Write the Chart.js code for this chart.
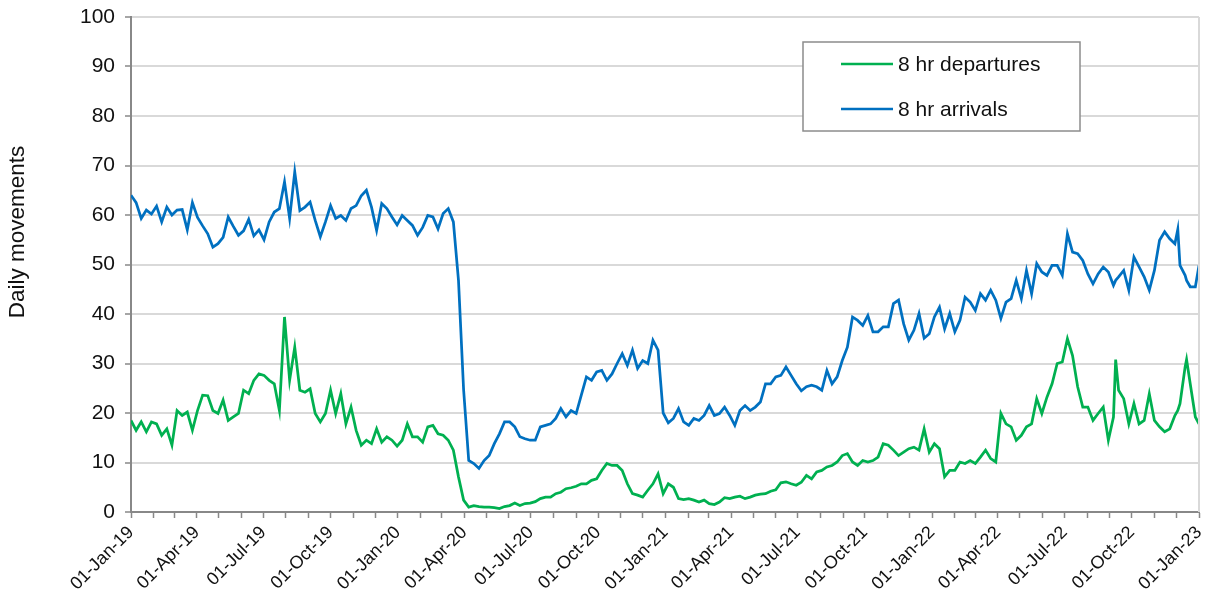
<!DOCTYPE html>
<html>
<head>
<meta charset="utf-8">
<script src="https://cdn.jsdelivr.net/npm/chart.js@4.4.0/dist/chart.umd.min.js"></script>
<style>
  html, body { margin: 0; padding: 0; background: #fff; }
  #wrap { width: 1210px; height: 599px; }
</style>
</head>
<body>
<div id="wrap"><canvas id="movementsChart" width="1210" height="599"></canvas></div>
<script>
// x = days since 01-Jan-2019, sampled about weekly
var days = [0, 7, 14, 21, 28, 35, 42, 49, 56, 63, 70, 77, 84, 91, 98, 105, 112, 119, 126, 133, 140, 147, 154, 161, 168, 175,
  182, 189, 196, 203, 210, 217, 224, 231, 238, 245, 252, 259, 266, 273, 280, 287, 294, 301, 308, 315, 322, 329, 336, 343, 350, 357,
  364, 371, 378, 385, 392, 399, 406, 413, 420, 427, 434, 441, 448, 455, 462, 469, 476, 483, 490, 497, 504, 511, 518, 525, 532, 539,
  546, 553, 560, 567, 574, 581, 588, 595, 602, 609, 616, 623, 630, 637, 644, 651, 658, 665, 672, 679, 686, 693, 700, 707, 714, 721,
  728, 735, 742, 749, 756, 763, 770, 777, 784, 791, 798, 805, 812, 819, 826, 833, 840, 847, 854, 861, 868, 875, 882, 889, 896, 903,
  910, 917, 924, 931, 938, 945, 952, 959, 966, 973, 980, 987, 994, 1001, 1008, 1015, 1022, 1029, 1036, 1043, 1050, 1057, 1064, 1071,
  1078, 1085, 1092, 1099, 1106, 1113, 1120, 1127, 1134, 1141, 1148, 1155, 1162, 1169, 1176, 1183, 1190, 1197, 1204, 1211, 1218, 1225,
  1232, 1239, 1246, 1253, 1260, 1267, 1274, 1281, 1288, 1295, 1302, 1309, 1316, 1323, 1330, 1337, 1344, 1347, 1351, 1358, 1365, 1372,
  1379, 1386, 1393, 1400, 1407, 1414, 1421, 1428, 1432, 1435, 1442, 1444, 1449, 1456, 1461];

var departures = [18.5, 16.5, 18.2, 16.2, 18.2, 17.8, 15.5, 16.8, 13.5, 20.5, 19.5, 20.2, 16.5, 20.5, 23.6, 23.5, 20.5, 19.9, 22.6, 18.5, 19.2, 19.9, 24.6, 23.9, 26.6, 27.9,
  27.6, 26.6, 25.9, 20.5, 39.4, 26.6, 33.3, 24.6, 24.2, 24.9, 19.9, 18.2, 19.9, 24.6, 19.9, 23.9, 17.8, 21.2, 16.5, 13.5, 14.5, 13.8, 16.8, 14.1, 15.2, 14.5,
  13.3, 14.5, 17.8, 15.2, 15.2, 14.1, 17.2, 17.5, 15.8, 15.5, 14.5, 12.5, 7.1, 2.4, 1.0, 1.3, 1.1, 1.0, 1.0, 0.9, 0.7, 1.1, 1.3, 1.8, 1.3, 1.7,
  1.8, 2.1, 2.7, 3.0, 3.0, 3.7, 4.0, 4.7, 4.9, 5.2, 5.7, 5.7, 6.4, 6.7, 8.4, 9.8, 9.4, 9.4, 8.4, 5.7, 3.7, 3.4, 3.0, 4.4, 5.7, 7.7,
  3.7, 5.7, 5.0, 2.7, 2.5, 2.7, 2.4, 2.0, 2.4, 1.7, 1.5, 2.0, 2.9, 2.7, 3.0, 3.2, 2.7, 3.0, 3.4, 3.6, 3.7, 4.2, 4.5, 5.9, 6.1, 5.7,
  5.4, 6.0, 7.4, 6.7, 8.1, 8.4, 9.1, 9.4, 10.1, 11.4, 11.8, 10.1, 9.4, 10.4, 10.1, 10.4, 11.1, 13.8, 13.5, 12.5, 11.4, 12.1, 12.8, 13.1,
  12.5, 16.8, 12.1, 13.8, 12.8, 7.1, 8.4, 8.4, 10.1, 9.8, 10.4, 9.8, 11.1, 12.5, 10.8, 10.1, 19.9, 17.8, 17.2, 14.5, 15.5, 17.2,
  17.8, 22.9, 19.9, 23.2, 25.9, 30.0, 30.3, 35.0, 31.6, 25.3, 21.2, 21.2, 18.5, 19.9, 21.2, 14.5, 19.2, 30.8, 24.6, 22.9, 17.8, 21.9,
  17.8, 18.5, 23.9, 18.5, 17.2, 16.2, 16.8, 19.5, 20.5, 21.9, 29.3, 30.8, 25.9, 19.2, 17.8];

var arrivals = [64.0, 62.5, 59.3, 61.0, 60.2, 61.8, 58.6, 61.6, 60.0, 61.0, 61.1, 57.0, 62.5, 59.5, 57.8, 56.2, 53.5, 54.2, 55.5, 59.6, 57.7, 55.9, 56.8, 59.1, 55.8, 57.0,
  55.0, 58.6, 60.6, 61.3, 66.7, 59.3, 68.7, 60.9, 61.6, 62.6, 58.9, 55.6, 58.6, 61.9, 59.3, 59.9, 58.9, 61.3, 61.9, 63.9, 65.0, 61.6, 56.9, 62.3, 61.3, 59.6,
  58.0, 59.9, 58.9, 57.9, 55.9, 57.5, 59.9, 59.6, 57.2, 60.3, 61.3, 58.6, 46.8, 24.7, 10.4, 9.8, 8.8, 10.4, 11.4, 13.8, 15.8, 18.2, 18.2, 17.2, 15.2, 14.8,
  14.5, 14.5, 17.2, 17.5, 17.8, 18.9, 20.9, 19.2, 20.5, 19.9, 23.6, 27.3, 26.6, 28.3, 28.6, 26.6, 27.9, 30.0, 32.0, 29.6, 32.7, 29.0, 30.6, 30.0, 34.7, 32.7,
  20.0, 18.0, 18.9, 20.9, 18.2, 17.5, 18.9, 18.5, 19.5, 21.5, 19.5, 19.9, 21.2, 19.5, 17.5, 20.5, 21.5, 20.5, 21.2, 22.2, 25.9, 25.9, 27.3, 27.6, 29.3, 27.6,
  25.9, 24.5, 25.3, 25.6, 25.3, 24.6, 28.6, 25.9, 27.3, 30.6, 33.3, 39.4, 38.7, 37.7, 39.7, 36.4, 36.4, 37.4, 37.4, 42.1, 42.8, 38.0, 34.7, 36.7,
  40.1, 35.1, 36.0, 39.4, 41.4, 37.0, 40.1, 36.4, 38.7, 43.4, 42.4, 40.7, 44.1, 42.8, 44.8, 42.8, 39.1, 42.4, 43.1, 46.8, 43.1, 48.8,
  44.1, 50.2, 48.5, 47.8, 49.8, 49.8, 47.8, 56.2, 52.5, 52.2, 50.8, 48.1, 46.1, 48.1, 49.5, 48.5, 45.8, 46.8, 47.5, 48.8, 44.8, 51.5,
  49.5, 47.5, 44.8, 48.8, 54.9, 56.6, 55.2, 54.2, 57.1, 49.8, 47.8, 46.8, 45.5, 45.5, 49.8];

var tickDays = [0, 90, 181, 273, 365, 456, 547, 639, 731, 821, 912, 1004, 1096, 1186, 1277, 1369, 1461];
var tickLabels = ['01-Jan-19', '01-Apr-19', '01-Jul-19', '01-Oct-19', '01-Jan-20', '01-Apr-20', '01-Jul-20', '01-Oct-20',
  '01-Jan-21', '01-Apr-21', '01-Jul-21', '01-Oct-21', '01-Jan-22', '01-Apr-22', '01-Jul-22', '01-Oct-22', '01-Jan-23'];

// first day of every month, for the small tick marks
var monthDays = [];
for (var y = 2019; y <= 2022; y++) {
  for (var m = 0; m < 12; m++) {
    monthDays.push((Date.UTC(y, m, 1) - Date.UTC(2019, 0, 1)) / 86400000);
  }
}
monthDays.push(1461);

var yTitle = 'Daily movements';
var fontFamily = '"Liberation Sans", Arial, sans-serif';

function toPoints(vals) {
  return vals.map(function (v, i) { return { x: days[i], y: v }; });
}

var boxLegend = {
  id: 'boxLegend',
  afterDraw: function (chart) {
    var c = chart.ctx;
    var area = chart.chartArea;
    c.save();
    // right border of the plot
    c.strokeStyle = '#d9d9d9';
    c.lineWidth = 2;
    c.beginPath();
    c.moveTo(area.right, area.top);
    c.lineTo(area.right, area.bottom);
    c.stroke();
    // y axis title, sits a bit above the middle like the original
    c.save();
    c.translate(18, 232);
    c.rotate(-Math.PI / 2);
    c.font = '22.5px ' + fontFamily;
    c.fillStyle = '#111';
    c.textAlign = 'center';
    c.textBaseline = 'middle';
    c.fillText(yTitle, 0, 0);
    c.restore();
    // legend box
    c.fillStyle = '#fff';
    c.fillRect(803, 42, 277, 89);
    c.strokeStyle = '#8c8c8c';
    c.lineWidth = 1.5;
    c.strokeRect(803, 42, 277, 89);
    c.font = '21px ' + fontFamily;
    c.textBaseline = 'middle';
    c.textAlign = 'left';
    c.fillStyle = '#111';
    var rows = [64, 109];
    chart.data.datasets.forEach(function (ds, i) {
      c.strokeStyle = ds.borderColor;
      c.lineWidth = 2.5;
      c.beginPath();
      c.moveTo(841, rows[i]);
      c.lineTo(893, rows[i]);
      c.stroke();
      c.fillText(ds.label, 898, rows[i] + 1);
    });
    c.restore();
  }
};

var ctx = document.getElementById('movementsChart').getContext('2d');
var movementsChart = new Chart(ctx, {
  type: 'line',
  data: {
    datasets: [{
      label: '8 hr departures',
      data: toPoints(departures),
      borderColor: '#00b050',
      borderWidth: 2.75,
      pointRadius: 0,
      tension: 0
    }, {
      label: '8 hr arrivals',
      data: toPoints(arrivals),
      borderColor: '#0070c0',
      borderWidth: 2.75,
      pointRadius: 0,
      tension: 0
    }]
  },
  options: {
    responsive: false,
    animation: false,
    devicePixelRatio: 1,
    layout: { padding: { top: 17, right: 11, left: 0, bottom: 0 } },
    plugins: {
      legend: { display: false },
      tooltip: { enabled: false }
    },
    scales: {
      x: {
        type: 'linear',
        min: 0,
        max: 1461,
        afterBuildTicks: function (scale) {
          scale.ticks = monthDays.map(function (d) { return { value: d }; });
        },
        afterFit: function (scale) {
          scale.height = 87;
          scale.paddingLeft = 0;
          scale.paddingRight = 0;
        },
        ticks: {
          autoSkip: false,
          minRotation: 45,
          maxRotation: 45,
          padding: 4,
          color: '#111',
          font: { family: fontFamily, size: 18 },
          callback: function (value) {
            var k = tickDays.indexOf(value);
            return k >= 0 ? tickLabels[k] : '';
          }
        },
        grid: { drawOnChartArea: false, drawTicks: true, tickLength: 6, tickColor: '#888', tickWidth: 1.5 },
        border: { color: '#888', width: 2 }
      },
      y: {
        min: 0,
        max: 100,
        afterFit: function (scale) {
          scale.width = 131;
          scale.paddingTop = 0;
          scale.paddingBottom = 0;
        },
        ticks: {
          stepSize: 5,
          padding: 10,
          color: '#111',
          font: { family: fontFamily, size: 21 },
          callback: function (value) { return value % 10 === 0 ? value : ''; }
        },
        grid: {
          color: function (c) { return c.tick && c.tick.value % 10 === 0 ? '#d9d9d9' : 'rgba(0,0,0,0)'; },
          lineWidth: 2,
          tickColor: '#888',
          tickLength: 6,
          tickWidth: 1.5
        },
        border: { color: '#888', width: 2 }
      }
    }
  },
  plugins: [boxLegend]
});
</script>
</body>
</html>
